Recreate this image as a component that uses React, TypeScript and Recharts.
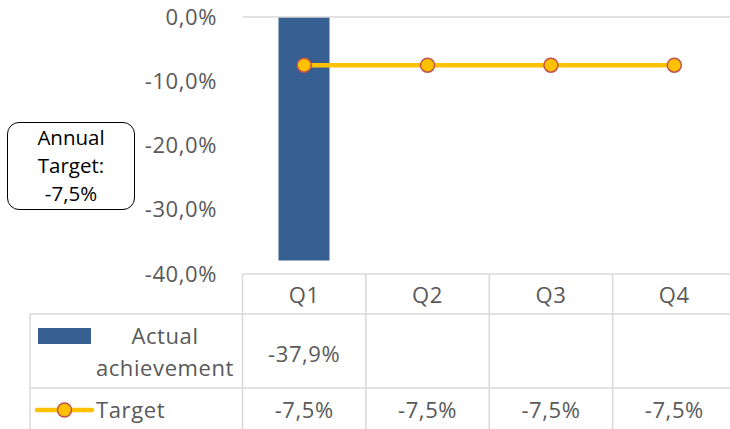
import React from "react";
import { ComposedChart, Bar, Line, XAxis, YAxis, ReferenceLine } from "recharts";

const categories = ["Q1", "Q2", "Q3", "Q4"];
const actualValues: (number | null)[] = [-37.9, null, null, null];
const targetValues = [-7.5, -7.5, -7.5, -7.5];
const yTicks = [-40, -30, -20, -10, 0];
const annualTarget = -7.5;
const actualName = ["Actual", "achievement"];
const targetName = "Target";

const data = categories.map((q, i) => ({ q, actual: actualValues[i], target: targetValues[i] }));

const CHART_W = 745;
const CHART_H = 429;
const Y_W = 100;
const MARGIN = { top: 17, right: 9, bottom: 0, left: 142.5 };
const X_H = 155;
const BAND = (CHART_W - MARGIN.left - MARGIN.right - Y_W) / categories.length;

const BAR_COLOR = "#376092";
const LINE_COLOR = "#FFC000";
const MARKER_STROKE = "#C0504D";
const GRID = "#D9D9D9";
const TEXT = "#595959";
const FONT = "'Open Sans', sans-serif";
const FS = 22;
const LS = 0.6;

const fmt = (v: number) => `${v.toFixed(1).replace(".", ",")}%`;

const T = (p: any) => (
  <text
    x={p.x}
    y={p.y}
    textAnchor={p.anchor || "middle"}
    fontFamily={FONT}
    fontSize={FS}
    letterSpacing={LS}
    fill={TEXT}
  >
    {p.children}
  </text>
);

const YTick = (props: any) => {
  const { x, y, payload } = props;
  return (
    <T x={x} y={y + 7.5} anchor="end">
      {fmt(payload.value)}
    </T>
  );
};

const TableTick = (props: any) => {
  const { x, y, payload } = props;
  const i = categories.indexOf(payload.value);
  const left = x - BAND / 2;
  const right = x + BAND / 2;
  const y0 = y;
  const r1 = y0 + 40;
  const r2 = y0 + 114;
  const end = y0 + 160;
  const a = actualValues[i];
  const t = targetValues[i];
  const ln = { stroke: GRID, strokeWidth: 1.5 };
  return (
    <g>
      <line x1={left} y1={y0} x2={right} y2={y0} {...ln} />
      <line x1={left} y1={r1} x2={right} y2={r1} {...ln} />
      <line x1={left} y1={r2} x2={right} y2={r2} {...ln} />
      <line x1={left} y1={y0} x2={left} y2={end} {...ln} />
      {i === categories.length - 1 && <line x1={right} y1={y0} x2={right} y2={end} {...ln} />}
      <T x={x} y={y0 + 28.5}>{payload.value}</T>
      {a != null && <T x={x} y={y0 + 87.5}>{fmt(a)}</T>}
      {t != null && <T x={x} y={y0 + 144}>{fmt(t)}</T>}
      {i === 0 && (
        <g>
          <line x1={30} y1={r1} x2={left} y2={r1} {...ln} />
          <line x1={30} y1={r2} x2={left} y2={r2} {...ln} />
          <line x1={30} y1={r1} x2={30} y2={end} {...ln} />
          <rect x={38} y={y0 + 54} width={53} height={16} fill={BAR_COLOR} />
          <T x={165} y={y0 + 70}>{actualName[0]}</T>
          <T x={165} y={y0 + 102}>{actualName[1]}</T>
          <line x1={37} y1={y0 + 136} x2={92} y2={y0 + 136} stroke={LINE_COLOR} strokeWidth={4.5} strokeLinecap="round" />
          <circle cx={64.5} cy={y0 + 136} r={7} fill={LINE_COLOR} stroke={MARKER_STROKE} strokeWidth={1.5} />
          <T x={96} y={y0 + 144} anchor="start">{targetName}</T>
        </g>
      )}
    </g>
  );
};

export default function App() {
  return (
    <div style={{ position: "absolute", left: 0, top: 0, width: 730, height: 429, overflow: "hidden", background: "#fff" }}>
      <ComposedChart width={CHART_W} height={CHART_H} data={data} margin={MARGIN}>
        <XAxis
          dataKey="q"
          height={X_H}
          axisLine={false}
          tickLine={false}
          tickSize={0}
          tickMargin={0}
          interval={0}
          tick={<TableTick />}
        />
        <YAxis
          width={Y_W}
          domain={[-40, 0]}
          ticks={yTicks}
          axisLine={false}
          tickLine={false}
          tickSize={0}
          tickMargin={25.5}
          tick={<YTick />}
          allowDataOverflow
        />
        <ReferenceLine y={0} stroke={GRID} strokeWidth={1.5} />
        <Bar dataKey="actual" fill={BAR_COLOR} barSize={51} isAnimationActive={false} />
        <Line
          dataKey="target"
          stroke={LINE_COLOR}
          strokeWidth={4.5}
          dot={{ r: 7, fill: LINE_COLOR, stroke: MARKER_STROKE, strokeWidth: 1.5 }}
          activeDot={false}
          isAnimationActive={false}
        />
      </ComposedChart>
      <div
        style={{
          position: "absolute",
          left: 7,
          top: 122,
          width: 126,
          height: 86,
          border: "1px solid #000",
          borderRadius: 12,
          fontFamily: FONT,
          fontSize: 20.5,
          lineHeight: "28px",
          color: "#000",
          textAlign: "center",
        }}
      >
        <div>Annual</div>
        <div>Target:</div>
        <div>{fmt(annualTarget)}</div>
      </div>
    </div>
  );
}
